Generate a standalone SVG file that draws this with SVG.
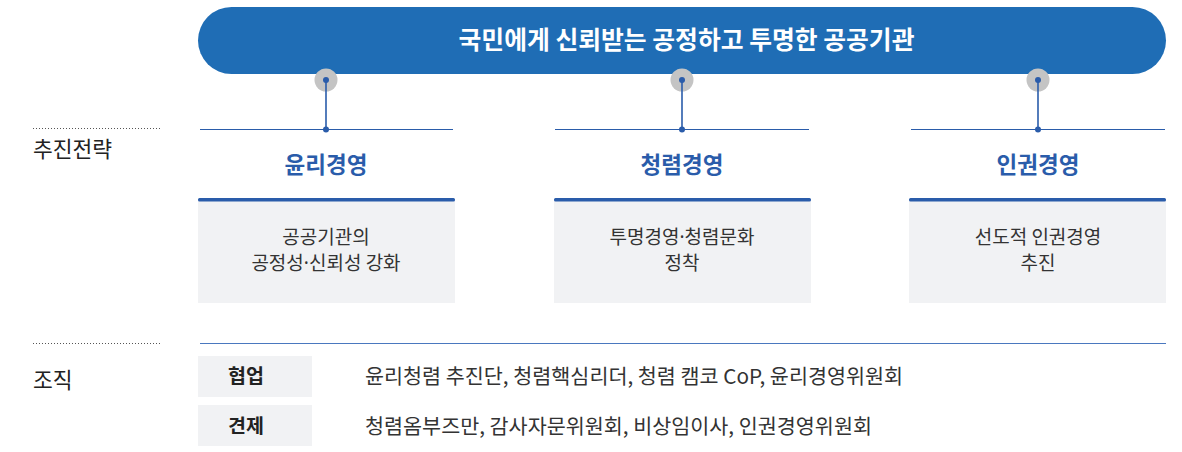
<svg xmlns="http://www.w3.org/2000/svg" width="1182" height="452" viewBox="0 0 1182 452">
<style>
text{font-family:"Noto Sans CJK KR","Noto Sans",sans-serif;}
.banner{fill:#1f6db5;}
.btxt{fill:#ffffff;font-size:24.8px;font-weight:700;}
.title{fill:#2a5caa;font-size:22.5px;font-weight:700;}
.body{fill:#333333;font-size:19px;}
.side{fill:#222222;font-size:21.5px;}
.tag{fill:#222222;font-size:19.5px;font-weight:700;}
.desc{fill:#333333;font-size:20.7px;}
.md{font-family:"Noto Sans",sans-serif;}
.gbox{fill:#f1f2f4;}
.bar{fill:#2a5caa;}
.hline{stroke:#2a5caa;stroke-width:1.2;fill:none;}
.vline{stroke:#2a5caa;stroke-width:1.6;fill:none;}
.dot{fill:#2a5caa;}
.halo{fill:#c4c4c4;}
.dotted{stroke:#555;stroke-width:1;stroke-dasharray:1 2;fill:none;}
</style>
<g id="banner">
<rect class="banner" x="198" y="7" width="968" height="67" rx="33.5"/>
<text class="btxt" x="686.5" y="48.5" text-anchor="middle">국민에게 신뢰받는 공정하고 투명한 공공기관</text>
</g>
<g id="connectors">
<circle class="halo" cx="326" cy="80" r="11.5"/>
<circle class="halo" cx="682" cy="80" r="11.5"/>
<circle class="halo" cx="1038" cy="80" r="11.5"/>
<line class="vline" x1="326" y1="80" x2="326" y2="129.5"/>
<line class="vline" x1="682" y1="80" x2="682" y2="129.5"/>
<line class="vline" x1="1038" y1="80" x2="1038" y2="129.5"/>
<circle class="dot" cx="326" cy="80" r="3"/>
<circle class="dot" cx="682" cy="80" r="3"/>
<circle class="dot" cx="1038" cy="80" r="3"/>
<line class="hline" x1="200" y1="129.5" x2="453" y2="129.5"/>
<line class="hline" x1="555" y1="129.5" x2="809" y2="129.5"/>
<line class="hline" x1="911" y1="129.5" x2="1165" y2="129.5"/>
<circle class="dot" cx="326" cy="129.5" r="3"/>
<circle class="dot" cx="682" cy="129.5" r="3"/>
<circle class="dot" cx="1038" cy="129.5" r="3"/>
</g>
<g id="label-strategy">
<line class="dotted" x1="33" y1="128.5" x2="161" y2="128.5"/>
<text class="side" x="33" y="157">추진전략</text>
</g>
<g id="col-ethics">
<text class="title" x="326" y="173" text-anchor="middle">윤리경영</text>
<rect class="gbox" x="198" y="200" width="257" height="103"/>
<rect class="bar" x="198" y="198" width="257" height="3.5" rx="1.5"/>
<text class="body" text-anchor="middle"><tspan x="326" y="243.5">공공기관의</tspan><tspan x="326" y="269.5">공정성<tspan class="md">·</tspan>신뢰성 강화</tspan></text>
</g>
<g id="col-integrity">
<text class="title" x="682" y="173" text-anchor="middle">청렴경영</text>
<rect class="gbox" x="554" y="200" width="257" height="103"/>
<rect class="bar" x="554" y="198" width="257" height="3.5" rx="1.5"/>
<text class="body" text-anchor="middle"><tspan x="682" y="243.5">투명경영<tspan class="md">·</tspan>청렴문화</tspan><tspan x="682" y="269.5">정착</tspan></text>
</g>
<g id="col-rights">
<text class="title" x="1038" y="173" text-anchor="middle">인권경영</text>
<rect class="gbox" x="909" y="200" width="257" height="103"/>
<rect class="bar" x="909" y="198" width="257" height="3.5" rx="1.5"/>
<text class="body" text-anchor="middle"><tspan x="1038" y="243.5">선도적 인권경영</tspan><tspan x="1038" y="269.5">추진</tspan></text>
</g>
<g id="label-org">
<line class="dotted" x1="33" y1="343.5" x2="161" y2="343.5"/>
<text class="side" x="33" y="388">조직</text>
<line x1="200" y1="343.5" x2="1166" y2="343.5" stroke="#4a78bf" stroke-width="1.2"/>
</g>
<g id="row-coop">
<rect class="gbox" x="198" y="356" width="114" height="41"/>
<text class="tag" x="246" y="383" text-anchor="middle">협업</text>
<text class="desc" x="365" y="384">윤리청렴 추진단, 청렴핵심리더, 청렴 캠코 CoP, 윤리경영위원회</text>
</g>
<g id="row-check">
<rect class="gbox" x="198" y="405" width="114" height="41"/>
<text class="tag" x="246" y="433" text-anchor="middle">견제</text>
<text class="desc" x="365" y="434">청렴옴부즈만, 감사자문위원회, 비상임이사, 인권경영위원회</text>
</g>
</svg>
